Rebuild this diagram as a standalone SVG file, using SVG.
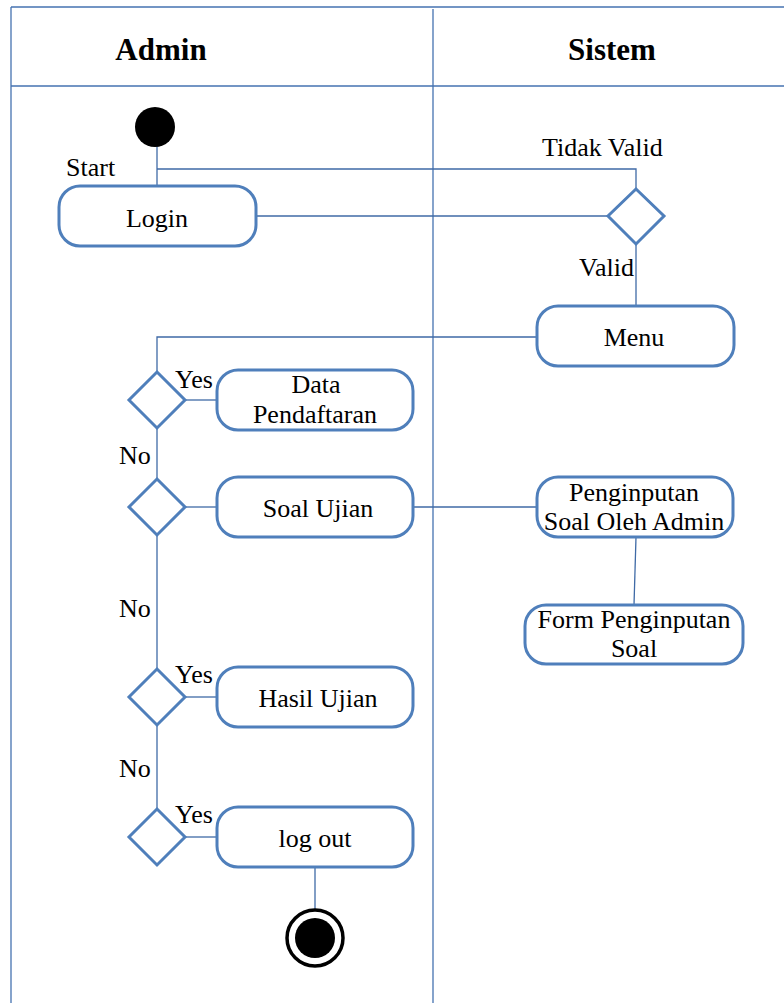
<svg xmlns="http://www.w3.org/2000/svg" width="784" height="1003" viewBox="0 0 784 1003">
<style>
.frame{stroke:#4472b0;stroke-width:1.3;fill:none}
.conn line,.conn polyline{stroke:#3f6aa6;stroke-width:1.3;fill:none}
.act{fill:#fff;stroke:#4f7fbb;stroke-width:3}
.dec{fill:#fff;stroke:#4f7fbb;stroke-width:3}
text{font-family:"Liberation Serif","Times New Roman",serif;font-size:26px;fill:#000}
.c{text-anchor:middle}
.h{font-weight:bold;font-size:31px}
</style>
<rect width="784" height="1003" fill="#fff"/>
<g id="frame">
<line class="frame" x1="11" y1="7" x2="784" y2="7"/>
<line class="frame" x1="11" y1="7" x2="11" y2="1003"/>
<line class="frame" x1="11" y1="86" x2="784" y2="86"/>
<line class="frame" x1="433" y1="9" x2="433" y2="1003"/>
<text class="h c" x="161" y="60">Admin</text>
<text class="h c" x="612" y="60">Sistem</text>
</g>
<g class="conn" id="connectors">
<line x1="157" y1="140" x2="157" y2="186"/>
<polyline points="157,169 636,169 636,189"/>
<line x1="256" y1="216" x2="607" y2="216"/>
<line x1="636" y1="244" x2="636" y2="306"/>
<polyline points="537,337 157,337 157,372"/>
<line x1="186" y1="400" x2="217" y2="400"/>
<line x1="157" y1="428" x2="157" y2="479"/>
<line x1="186" y1="507" x2="217" y2="507"/>
<line x1="413" y1="507" x2="537" y2="507"/>
<line x1="636" y1="537" x2="634" y2="605"/>
<line x1="157" y1="535" x2="157" y2="669"/>
<line x1="186" y1="697" x2="217" y2="697"/>
<line x1="157" y1="725" x2="157" y2="809"/>
<line x1="186" y1="837" x2="217" y2="837"/>
<line x1="315" y1="867" x2="315" y2="910"/>
</g>
<g id="start">
<circle cx="155" cy="127" r="20" fill="#000"/>
<text x="66" y="176">Start</text>
</g>
<g id="login">
<rect class="act" x="59" y="186" width="197" height="60" rx="21"/>
<text class="c" x="157" y="227">Login</text>
</g>
<g id="validasi">
<polygon class="dec" points="636,189 664,216 636,244 608,216"/>
<text x="542" y="156">Tidak Valid</text>
<text x="634" y="276" text-anchor="end">Valid</text>
</g>
<g id="menu">
<rect class="act" x="537" y="306" width="197" height="60" rx="21"/>
<text class="c" x="634" y="346">Menu</text>
</g>
<g id="dec1">
<polygon class="dec" points="157,372 185,400 157,428 129,400"/>
<text x="175" y="388">Yes</text>
<text x="119" y="464">No</text>
</g>
<g id="data-pendaftaran">
<rect class="act" x="217" y="370" width="196" height="60" rx="21"/>
<text class="c" x="316" y="393">Data</text>
<text class="c" x="315" y="423">Pendaftaran</text>
</g>
<g id="dec2">
<polygon class="dec" points="157,479 185,507 157,535 129,507"/>
<text x="119" y="617">No</text>
</g>
<g id="soal-ujian">
<rect class="act" x="217" y="477" width="196" height="60" rx="21"/>
<text class="c" x="318" y="517">Soal Ujian</text>
</g>
<g id="penginputan">
<rect class="act" x="537" y="477" width="196" height="60" rx="21"/>
<text class="c" x="634" y="501">Penginputan</text>
<text class="c" x="634" y="530">Soal Oleh Admin</text>
</g>
<g id="form-penginputan">
<rect class="act" x="525" y="605" width="218" height="59" rx="21"/>
<text class="c" x="634" y="628">Form Penginputan</text>
<text class="c" x="634" y="657">Soal</text>
</g>
<g id="dec3">
<polygon class="dec" points="157,669 185,697 157,725 129,697"/>
<text x="175" y="683">Yes</text>
<text x="119" y="777">No</text>
</g>
<g id="hasil-ujian">
<rect class="act" x="217" y="667" width="196" height="60" rx="21"/>
<text class="c" x="318" y="707">Hasil Ujian</text>
</g>
<g id="dec4">
<polygon class="dec" points="157,809 185,837 157,865 129,837"/>
<text x="175" y="823">Yes</text>
</g>
<g id="logout">
<rect class="act" x="217" y="807" width="196" height="60" rx="21"/>
<text class="c" x="315" y="847">log out</text>
</g>
<g id="end">
<circle cx="315" cy="938" r="28" fill="#fff" stroke="#000" stroke-width="3.5"/>
<circle cx="315" cy="938" r="20" fill="#000"/>
</g>
</svg>
